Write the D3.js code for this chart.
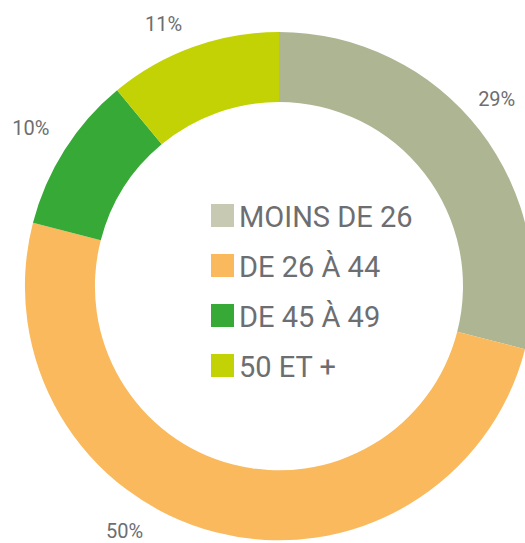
<!DOCTYPE html>
<html lang="fr">
<head>
<meta charset="utf-8">
<script src="https://d3js.org/d3.v7.min.js"></script>
<style>
  body { margin: 0; background: #fff; }
  svg { display: block; font-family: Roboto, "Open Sans", sans-serif; }
</style>
</head>
<body>
<div id="chart"></div>
<script>
// Data
const categories = ["MOINS DE 26", "DE 26 À 44", "DE 45 À 49", "50 ET +"];
const values = [29, 50, 10, 11];
const sliceColors = ["#adb593", "#f9b95c", "#37a936", "#c3d205"];
const legendColors = ["#c8c9b3", "#f9b95c", "#37a936", "#c3d205"];

const width = 525, height = 543;
const cx = 279, cy = 286;
const outerR = 254, innerR = 184;

const svg = d3.select("#chart").append("svg")
  .attr("width", width)
  .attr("height", height);

const g = svg.append("g").attr("transform", `translate(${cx},${cy})`);

const data = categories.map((c, i) => ({ category: c, value: values[i], i }));

const pie = d3.pie().value(d => d.value).sort(null);
const arc = d3.arc().innerRadius(innerR).outerRadius(outerR);
const arcs = pie(data);

g.selectAll("path")
  .data(arcs)
  .join("path")
  .attr("d", arc)
  .attr("fill", d => sliceColors[d.data.i]);

// percentage labels, placed outside the ring
// nudge angles so labels stay inside the frame
const nudge = [-0.05, 0.31, 0.0, -0.07];
const labelR = [287, 290, 294, 286];
g.selectAll(".pct")
  .data(arcs)
  .join("text")
  .attr("class", "pct")
  .attr("x", d => {
    const a = (d.startAngle + d.endAngle) / 2 + nudge[d.data.i];
    return Math.sin(a) * labelR[d.data.i];
  })
  .attr("y", d => {
    const a = (d.startAngle + d.endAngle) / 2 + nudge[d.data.i];
    return -Math.cos(a) * labelR[d.data.i];
  })
  .attr("dy", "0.35em")
  .attr("text-anchor", "middle")
  .attr("font-size", "20px")
  .attr("fill", "#6d6e71")
  .text(d => d.data.value + "%");

// legend
const legendY = d3.scaleBand()
  .domain(categories)
  .range([204, 404])
  .paddingInner(0);

const legend = svg.append("g");
legend.selectAll("rect")
  .data(data)
  .join("rect")
  .attr("x", 211)
  .attr("y", d => legendY(d.category))
  .attr("width", 23)
  .attr("height", 23)
  .attr("fill", d => legendColors[d.i]);

legend.selectAll("text")
  .data(data)
  .join("text")
  .attr("x", 239)
  .attr("y", d => legendY(d.category) + 23)
  .attr("font-size", "29px")
  .attr("fill", "#6d6e71")
  .text(d => d.category);
</script>
</body>
</html>
